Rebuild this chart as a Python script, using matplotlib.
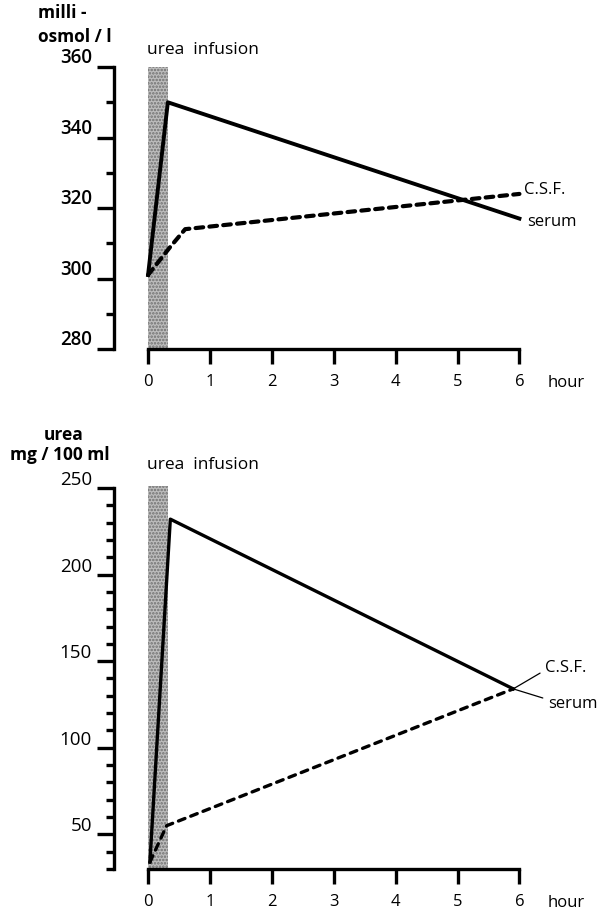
import matplotlib
matplotlib.use("Agg")
import matplotlib.pyplot as plt
from matplotlib.ticker import MultipleLocator

plt.rcParams['font.family'] = ['Open Sans', 'DejaVu Sans']
plt.rcParams['lines.scale_dashes'] = False
plt.rcParams['hatch.linewidth'] = 1.2

W, H = 605, 912

# infusion period (hours)
infusion = (0.0, 0.33)
hours = [0, 1, 2, 3, 4, 5, 6]

# top panel: osmolality, milliosmol/l
osm_t_serum = [0.0, 0.32, 6.0]
osm_serum = [301, 350, 317]
osm_t_csf = [0.0, 0.36, 0.6, 6.0]
osm_csf = [301, 309, 314, 324]
osm_ticks = [280, 300, 320, 340, 360]

# bottom panel: urea, mg/100 ml
urea_t_serum = [0.03, 0.36, 5.9]
urea_serum = [34, 232, 134]
urea_t_csf = [0.03, 0.3, 5.9]
urea_csf = [34, 55, 134]
urea_ticks = [50, 100, 150, 200, 250]


def px_axes(fig, x0, y0, x1, y1):
    return fig.add_axes([x0 / W, 1 - y1 / H, (x1 - x0) / W, (y1 - y0) / H])


def style(ax, ylo, yhi, ymaj, weight, lw):
    ax.set_xlim(-0.55, 6.3)
    for s in ['top', 'right']:
        ax.spines[s].set_visible(False)
    ax.spines['left'].set_linewidth(lw)
    ax.spines['bottom'].set_linewidth(lw)
    ax.spines['left'].set_bounds(ylo, yhi)
    ax.spines['bottom'].set_bounds(0, 6)
    ax.set_xticks(hours)
    ax.set_yticks(ymaj)
    ax.yaxis.set_minor_locator(MultipleLocator(10))
    ax.tick_params(axis='y', which='major', direction='out', length=12, width=lw, pad=4)
    ax.tick_params(axis='y', which='minor', direction='out', length=6, width=lw)
    ax.tick_params(axis='x', which='major', direction='out', length=11, width=lw, pad=6)
    for lab in ax.get_yticklabels():
        lab.set_verticalalignment('bottom')
        lab.set_fontsize(13.5)
        lab.set_fontweight(weight)
    for lab in ax.get_xticklabels():
        lab.set_fontsize(12)
    ax.annotate('hour', xy=(6, 0), xycoords=('data', 'axes fraction'),
                xytext=(28, -33), textcoords='offset pixels',
                ha='left', va='center', fontsize=12)


fig = plt.figure(figsize=(W / 100, H / 100), dpi=100)

# ---------- top panel
ax1 = px_axes(fig, 114, 61, 538, 350)
ax1.set_ylim(280, 362)
ax1.fill_between(infusion, 280, 360, facecolor='#bdbdbd', edgecolor='#707070',
                 hatch='.....', linewidth=0, zorder=1)
ax1.plot(osm_t_serum, osm_serum, color='black', lw=2.8, zorder=3)
ax1.plot(osm_t_csf, osm_csf, color='black', lw=3, dashes=(5.5, 4.5),
         dash_capstyle='round', zorder=3)
style(ax1, 280, 360, osm_ticks, 'semibold', 2.4)
ax1.annotate('C.S.F.', xy=(osm_t_csf[-1], osm_csf[-1]), xytext=(5, 5),
             textcoords='offset pixels', ha='left', va='center', fontsize=12)
ax1.annotate('serum', xy=(osm_t_serum[-1], osm_serum[-1]), xytext=(8, -2),
             textcoords='offset pixels', ha='left', va='center', fontsize=12)
fig.text(147 / W, 1 - 50 / H, 'urea  infusion', ha='left', va='center', fontsize=12.5)
fig.text(38 / W, 1 - 13 / H, 'milli -', ha='left', va='center', fontsize=12.5,
         fontweight='bold')
fig.text(38 / W, 1 - 37 / H, 'osmol / l', ha='left', va='center', fontsize=12.5,
         fontweight='bold')

# ---------- bottom panel
ax2 = px_axes(fig, 114, 485.5, 538, 870)
ax2.set_ylim(30, 252)
ax2.fill_between(infusion, 30, 251, facecolor='#bdbdbd', edgecolor='#707070',
                 hatch='.....', linewidth=0, zorder=1)
ax2.plot(urea_t_serum, urea_serum, color='black', lw=2.4, zorder=3)
ax2.plot(urea_t_csf, urea_csf, color='black', lw=2.4, dashes=(5, 4.5),
         dash_capstyle='round', zorder=3)
style(ax2, 30, 250, urea_ticks, 'normal', 2.4)
ax2.annotate('C.S.F.', xy=(urea_t_csf[-1], urea_csf[-1]), xytext=(32, 22),
             textcoords='offset pixels', ha='left', va='center', fontsize=12,
             arrowprops=dict(arrowstyle='-', lw=0.9, color='black',
                             shrinkA=2, shrinkB=0, relpos=(0, 0.3)))
ax2.annotate('serum', xy=(urea_t_serum[-1], urea_serum[-1]), xytext=(35, -14),
             textcoords='offset pixels', ha='left', va='center', fontsize=12,
             arrowprops=dict(arrowstyle='-', lw=0.9, color='black',
                             shrinkA=2, shrinkB=0, relpos=(0, 0.7)))
fig.text(147 / W, 1 - 465 / H, 'urea  infusion', ha='left', va='center', fontsize=12.5)
fig.text(64 / W, 1 - 435 / H, 'urea', ha='center', va='center', fontsize=12.5,
         fontweight='bold')
fig.text(60 / W, 1 - 455 / H, 'mg / 100 ml', ha='center', va='center', fontsize=12.5,
         fontweight='bold')

fig.savefig('out.png', dpi=100)
